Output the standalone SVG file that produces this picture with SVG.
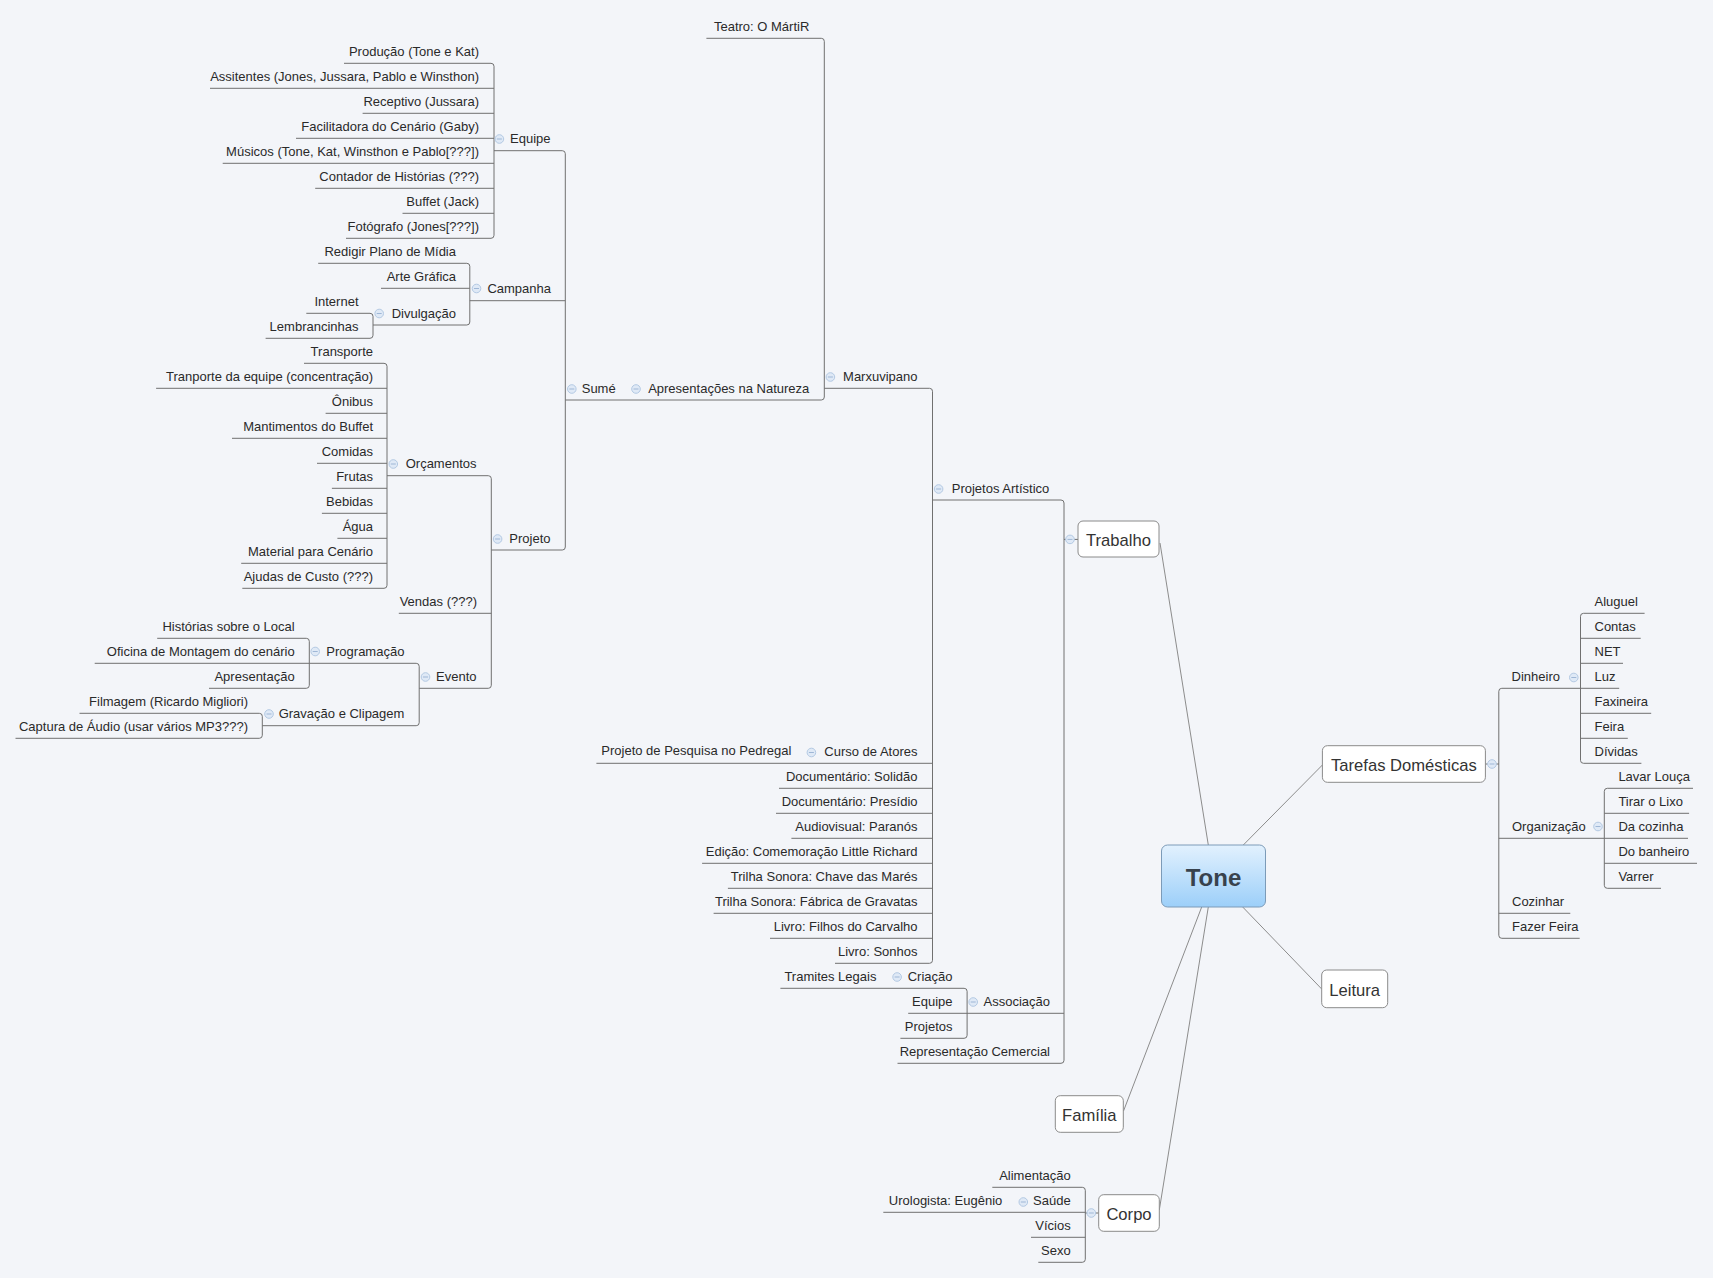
<svg xmlns="http://www.w3.org/2000/svg" width="1713" height="1278" viewBox="0 0 1713 1278">
<defs>
<linearGradient id="toneGrad" x1="0" y1="0" x2="0" y2="1">
<stop offset="0" stop-color="#e2f1fe"/>
<stop offset="1" stop-color="#9ccff9"/>
</linearGradient>
<style>
.l{font-family:"Liberation Sans",Arial,sans-serif;font-size:13px;fill:#2a2a2a}
.e{text-anchor:end}
.t{font-family:"Liberation Sans",Arial,sans-serif;font-size:16.6px;fill:#333;text-anchor:middle}
.c{fill:none;stroke:#707070;stroke-width:1}
.m{fill:none;stroke:#8c8c8c;stroke-width:1}
.box{fill:#fff;stroke:#8a8a8a;stroke-width:1}
.ic{fill:#dfe9f6;stroke:#b3c9e3;stroke-width:1}
.icm{stroke:#9fb7d6;stroke-width:1}
</style>
</defs>
<rect x="0" y="0" width="1713" height="1278" fill="#f3f5f9"/>

<g id="connectors">
<path class="m" d="M1208.3,845 L1160,543"/>
<path class="m" d="M1243.3,845 L1322.4,765"/>
<path class="m" d="M1242.7,907 L1321.7,989"/>
<path class="m" d="M1201.7,907 L1123.5,1111"/>
<path class="m" d="M1208.3,907 L1159.3,1210"/>
<path class="c" d="M1064,539.4 H1078"/>
<path class="c" d="M932.5,500 H1061 Q1064,500 1064,503 V1060.3 Q1064,1063.3 1061,1063.3 H897.5"/>
<path class="c" d="M908.2,1013.3 H1064"/>
<path class="c" d="M780.4,988.3 H964.1 Q967.1,988.3 967.1,991.3 V1035.3 Q967.1,1038.3 964.1,1038.3 H900.4"/>
<path class="c" d="M824.3,388.3 H929.5 Q932.5,388.3 932.5,391.3 V960.3 Q932.5,963.3 929.5,963.3 H835"/>
<path class="c" d="M596.4,763.3 H932.5 M779,788.3 H932.5 M776,813.3 H932.5 M791.4,838.3 H932.5 M702.1,863.3 H932.5 M727.9,888.3 H932.5 M713.6,913.3 H932.5 M770,938.3 H932.5"/>
<path class="c" d="M706.4,38.3 H821.3 Q824.3,38.3 824.3,41.3 V397 Q824.3,400 821.3,400 H565.3"/>
<path class="c" d="M494,150.7 H562.3 Q565.3,150.7 565.3,153.7 V547 Q565.3,550 562.3,550 H491.3"/>
<path class="c" d="M469.8,300.7 H565.3"/>
<path class="c" d="M344,63.3 H491 Q494,63.3 494,66.3 V235.3 Q494,238.3 491,238.3 H346"/>
<path class="c" d="M210,88.3 H494 M362.6,113.3 H494 M296,138.3 H494 M222.7,163.3 H494 M315.2,188.3 H494 M402.5,213.3 H494"/>
<path class="c" d="M318.2,263.3 H466.8 Q469.8,263.3 469.8,266.3 V322 Q469.8,325 466.8,325 H373"/>
<path class="c" d="M381,288.3 H469.8"/>
<path class="c" d="M306.3,313.3 H370 Q373,313.3 373,316.3 V335.3 Q373,338.3 370,338.3 H265.6"/>
<path class="c" d="M387,475.7 H488.3 Q491.3,475.7 491.3,478.7 V685.3 Q491.3,688.3 488.3,688.3 H419.2"/>
<path class="c" d="M398.8,613.3 H491.3"/>
<path class="c" d="M304,363.3 H384 Q387,363.3 387,366.3 V585.3 Q387,588.3 384,588.3 H242.3"/>
<path class="c" d="M156.1,388.3 H387 M325.6,413.3 H387 M232,438.3 H387 M317,463.3 H387 M331.9,488.3 H387 M321.9,513.3 H387 M337.4,538.3 H387 M241.2,563.3 H387"/>
<path class="c" d="M309.3,663.3 H416.2 Q419.2,663.3 419.2,666.3 V722.7 Q419.2,725.7 416.2,725.7 H262.3"/>
<path class="c" d="M157.2,638.3 H306.3 Q309.3,638.3 309.3,641.3 V685.3 Q309.3,688.3 306.3,688.3 H209"/>
<path class="c" d="M94.7,663.3 H309.3"/>
<path class="c" d="M79.5,713.3 H259.3 Q262.3,713.3 262.3,716.3 V735.3 Q262.3,738.3 259.3,738.3 H15.5"/>
<path class="c" d="M1085.3,1213 H1098.7"/>
<path class="c" d="M992.3,1187.3 H1082.3 Q1085.3,1187.3 1085.3,1190.3 V1259.3 Q1085.3,1262.3 1082.3,1262.3 H1038.3"/>
<path class="c" d="M883.3,1212.3 H1085.3 M1031,1237.3 H1085.3"/>
<path class="c" d="M1485.5,764 H1498.8"/>
<path class="c" d="M1580.5,688.3 H1501.8 Q1498.8,688.3 1498.8,691.3 V935.3 Q1498.8,938.3 1501.8,938.3 H1579.7"/>
<path class="c" d="M1498.8,838.3 H1604.3 M1498.8,913.3 H1570.3"/>
<path class="c" d="M1644.6,613.3 H1583.5 Q1580.5,613.3 1580.5,616.3 V760.3 Q1580.5,763.3 1583.5,763.3 H1641.4"/>
<path class="c" d="M1580.5,638.3 H1640.7 M1580.5,663.3 H1623 M1580.5,688.3 H1619.2 M1580.5,713.3 H1651.2 M1580.5,738.3 H1627.8"/>
<path class="c" d="M1693,788.3 H1607.3 Q1604.3,788.3 1604.3,791.3 V885.3 Q1604.3,888.3 1607.3,888.3 H1661"/>
<path class="c" d="M1604.3,813.3 H1689.1 M1604.3,838.3 H1688 M1604.3,863.3 H1697"/>
</g>

<g id="tone">
<rect x="1161.5" y="845" width="104" height="62" rx="6" fill="url(#toneGrad)" stroke="#7c9bb8"/>
<text x="1213.5" y="885.5" text-anchor="middle" font-family="Liberation Sans, Arial, sans-serif" font-size="24" font-weight="bold" fill="#38424d">Tone</text>
</g>

<g id="trabalho">
<rect class="box" x="1078" y="521" width="81" height="36" rx="5"/>
<text class="t" x="1118.5" y="545.6">Trabalho</text>
<circle class="ic" cx="1070" cy="539.4" r="4.3"/><line class="icm" x1="1067.5" y1="539.4" x2="1072.5" y2="539.4"/>
</g>
<g id="tarefas">
<rect class="box" x="1322.4" y="745.7" width="163" height="36.6" rx="5"/>
<text class="t" x="1403.9" y="770.6">Tarefas Domésticas</text>
<circle class="ic" cx="1492" cy="764" r="4.3"/><line class="icm" x1="1489.5" y1="764" x2="1494.5" y2="764"/>
</g>
<g id="leitura">
<rect class="box" x="1321.7" y="970" width="66" height="37.7" rx="5"/>
<text class="t" x="1354.7" y="995.5">Leitura</text>
</g>
<g id="familia">
<rect class="box" x="1055.3" y="1095.7" width="68" height="36.6" rx="5"/>
<text class="t" x="1089.3" y="1120.5">Família</text>
</g>
<g id="corpo">
<rect class="box" x="1098.7" y="1194.7" width="60.6" height="36.6" rx="5"/>
<text class="t" x="1129" y="1219.6">Corpo</text>
<circle class="ic" cx="1091.3" cy="1213" r="4.3"/><line class="icm" x1="1088.8" y1="1213" x2="1093.8" y2="1213"/>
</g>

<g id="projetos-artistico"><text class="l e" x="1049.3" y="492.7">Projetos Artístico</text><circle class="ic" cx="938.6" cy="489" r="4.3"/><line class="icm" x1="936.1" y1="489" x2="941.1" y2="489"/></g>
<g id="marxuvipano"><text class="l e" x="917.5" y="381">Marxuvipano</text><circle class="ic" cx="830.4" cy="377" r="4.3"/><line class="icm" x1="827.9" y1="377" x2="832.9" y2="377"/></g>
<g id="teatro"><text class="l e" x="809.3" y="31">Teatro: O MártiR</text></g>
<g id="apresentacoes"><text class="l e" x="809.3" y="392.7">Apresentações na Natureza</text><circle class="ic" cx="636" cy="389" r="4.3"/><line class="icm" x1="633.5" y1="389" x2="638.5" y2="389"/></g>
<g id="sume"><text class="l e" x="615.7" y="392.7">Sumé</text><circle class="ic" cx="571.8" cy="389" r="4.3"/><line class="icm" x1="569.3" y1="389" x2="574.3" y2="389"/></g>

<g id="equipe"><text class="l e" x="550.5" y="143.4">Equipe</text><circle class="ic" cx="499.4" cy="139" r="4.3"/><line class="icm" x1="496.9" y1="139" x2="501.9" y2="139"/></g>
<g id="producao"><text class="l e" x="479" y="56">Produção (Tone e Kat)</text></g>
<g id="assitentes"><text class="l e" x="479" y="81">Assitentes (Jones, Jussara, Pablo e Winsthon)</text></g>
<g id="receptivo"><text class="l e" x="479" y="106">Receptivo (Jussara)</text></g>
<g id="facilitadora"><text class="l e" x="479" y="131">Facilitadora do Cenário (Gaby)</text></g>
<g id="musicos"><text class="l e" x="479" y="156">Músicos (Tone, Kat, Winsthon e Pablo[???])</text></g>
<g id="contador"><text class="l e" x="479" y="181">Contador de Histórias (???)</text></g>
<g id="buffet"><text class="l e" x="479" y="206">Buffet (Jack)</text></g>
<g id="fotografo"><text class="l e" x="479" y="231">Fotógrafo (Jones[???])</text></g>

<g id="campanha"><text class="l e" x="551" y="293.4">Campanha</text><circle class="ic" cx="476.5" cy="288.5" r="4.3"/><line class="icm" x1="474" y1="288.5" x2="479" y2="288.5"/></g>
<g id="redigir"><text class="l e" x="456" y="256">Redigir Plano de Mídia</text></g>
<g id="arte"><text class="l e" x="456" y="281">Arte Gráfica</text></g>
<g id="divulgacao"><text class="l e" x="456" y="317.7">Divulgação</text><circle class="ic" cx="379.2" cy="313.5" r="4.3"/><line class="icm" x1="376.7" y1="313.5" x2="381.7" y2="313.5"/></g>
<g id="internet"><text class="l e" x="358.5" y="306">Internet</text></g>
<g id="lembrancinhas"><text class="l e" x="358.5" y="331">Lembrancinhas</text></g>

<g id="projeto"><text class="l e" x="550.5" y="542.7">Projeto</text><circle class="ic" cx="497.6" cy="539" r="4.3"/><line class="icm" x1="495.1" y1="539" x2="500.1" y2="539"/></g>
<g id="orcamentos"><text class="l e" x="476.5" y="468.4">Orçamentos</text><circle class="ic" cx="393.3" cy="464" r="4.3"/><line class="icm" x1="390.8" y1="464" x2="395.8" y2="464"/></g>
<g id="transporte"><text class="l e" x="373" y="356">Transporte</text></g>
<g id="tranporte-equipe"><text class="l e" x="373" y="381">Tranporte da equipe (concentração)</text></g>
<g id="onibus"><text class="l e" x="373" y="406">Ônibus</text></g>
<g id="mantimentos"><text class="l e" x="373" y="431">Mantimentos do Buffet</text></g>
<g id="comidas"><text class="l e" x="373" y="456">Comidas</text></g>
<g id="frutas"><text class="l e" x="373" y="481">Frutas</text></g>
<g id="bebidas"><text class="l e" x="373" y="506">Bebidas</text></g>
<g id="agua"><text class="l e" x="373" y="531">Água</text></g>
<g id="material"><text class="l e" x="373" y="556">Material para Cenário</text></g>
<g id="ajudas"><text class="l e" x="373" y="581">Ajudas de Custo (???)</text></g>
<g id="vendas"><text class="l e" x="477" y="606">Vendas (???)</text></g>
<g id="evento"><text class="l e" x="476.5" y="681">Evento</text><circle class="ic" cx="425.5" cy="677" r="4.3"/><line class="icm" x1="423" y1="677" x2="428" y2="677"/></g>
<g id="programacao"><text class="l e" x="404.4" y="656">Programação</text><circle class="ic" cx="315.2" cy="651.5" r="4.3"/><line class="icm" x1="312.7" y1="651.5" x2="317.7" y2="651.5"/></g>
<g id="historias"><text class="l e" x="294.7" y="631">Histórias sobre o Local</text></g>
<g id="oficina"><text class="l e" x="294.7" y="656">Oficina de Montagem do cenário</text></g>
<g id="apresentacao"><text class="l e" x="294.7" y="681">Apresentação</text></g>
<g id="gravacao"><text class="l e" x="404.4" y="718.4">Gravação e Clipagem</text><circle class="ic" cx="269" cy="714" r="4.3"/><line class="icm" x1="266.5" y1="714" x2="271.5" y2="714"/></g>
<g id="filmagem"><text class="l e" x="248" y="706">Filmagem (Ricardo Migliori)</text></g>
<g id="captura"><text class="l e" x="248" y="731">Captura de Áudio (usar vários MP3???)</text></g>

<g id="curso"><text class="l e" x="917.5" y="756.3">Curso de Atores</text><circle class="ic" cx="811.4" cy="752.5" r="4.3"/><line class="icm" x1="808.9" y1="752.5" x2="813.9" y2="752.5"/></g>
<g id="pesquisa"><text class="l e" x="791.4" y="755.3">Projeto de Pesquisa no Pedregal</text></g>
<g id="doc-solidao"><text class="l e" x="917.5" y="781">Documentário: Solidão</text></g>
<g id="doc-presidio"><text class="l e" x="917.5" y="806">Documentário: Presídio</text></g>
<g id="audiovisual"><text class="l e" x="917.5" y="831">Audiovisual: Paranós</text></g>
<g id="edicao"><text class="l e" x="917.5" y="856">Edição: Comemoração Little Richard</text></g>
<g id="trilha-chave"><text class="l e" x="917.5" y="881">Trilha Sonora: Chave das Marés</text></g>
<g id="trilha-fabrica"><text class="l e" x="917.5" y="906">Trilha Sonora: Fábrica de Gravatas</text></g>
<g id="livro-filhos"><text class="l e" x="917.5" y="931">Livro: Filhos do Carvalho</text></g>
<g id="livro-sonhos"><text class="l e" x="917.5" y="956">Livro: Sonhos</text></g>

<g id="associacao"><text class="l e" x="1050" y="1006">Associação</text><circle class="ic" cx="973.2" cy="1002" r="4.3"/><line class="icm" x1="970.7" y1="1002" x2="975.7" y2="1002"/></g>
<g id="criacao"><text class="l e" x="952.5" y="981">Criação</text><circle class="ic" cx="897.1" cy="977" r="4.3"/><line class="icm" x1="894.6" y1="977" x2="899.6" y2="977"/></g>
<g id="tramites"><text class="l e" x="876.4" y="981">Tramites Legais</text></g>
<g id="assoc-equipe"><text class="l e" x="952.5" y="1006">Equipe</text></g>
<g id="assoc-projetos"><text class="l e" x="952.5" y="1031">Projetos</text></g>
<g id="representacao"><text class="l e" x="1050" y="1056">Representação Cemercial</text></g>

<g id="alimentacao"><text class="l e" x="1070.7" y="1180">Alimentação</text></g>
<g id="saude"><text class="l e" x="1070.7" y="1205">Saúde</text><circle class="ic" cx="1023.3" cy="1202" r="4.3"/><line class="icm" x1="1020.8" y1="1202" x2="1025.8" y2="1202"/></g>
<g id="urologista"><text class="l e" x="1002.3" y="1205">Urologista: Eugênio</text></g>
<g id="vicios"><text class="l e" x="1070.7" y="1230">Vícios</text></g>
<g id="sexo"><text class="l e" x="1070.7" y="1255">Sexo</text></g>

<g id="dinheiro"><text class="l" x="1511.6" y="681">Dinheiro</text><circle class="ic" cx="1573.8" cy="677.5" r="4.3"/><line class="icm" x1="1571.3" y1="677.5" x2="1576.3" y2="677.5"/></g>
<g id="aluguel"><text class="l" x="1594.5" y="606">Aluguel</text></g>
<g id="contas"><text class="l" x="1594.5" y="631">Contas</text></g>
<g id="net"><text class="l" x="1594.5" y="656">NET</text></g>
<g id="luz"><text class="l" x="1594.5" y="681">Luz</text></g>
<g id="faxineira"><text class="l" x="1594.5" y="706">Faxineira</text></g>
<g id="feira"><text class="l" x="1594.5" y="731">Feira</text></g>
<g id="dividas"><text class="l" x="1594.5" y="756">Dívidas</text></g>
<g id="organizacao"><text class="l" x="1512" y="831">Organização</text><circle class="ic" cx="1598" cy="826.5" r="4.3"/><line class="icm" x1="1595.5" y1="826.5" x2="1600.5" y2="826.5"/></g>
<g id="lavar"><text class="l" x="1618.4" y="781">Lavar Louça</text></g>
<g id="tirar"><text class="l" x="1618.4" y="806">Tirar o Lixo</text></g>
<g id="da-cozinha"><text class="l" x="1618.4" y="831">Da cozinha</text></g>
<g id="do-banheiro"><text class="l" x="1618.4" y="856">Do banheiro</text></g>
<g id="varrer"><text class="l" x="1618.4" y="881">Varrer</text></g>
<g id="cozinhar"><text class="l" x="1512" y="906">Cozinhar</text></g>
<g id="fazer-feira"><text class="l" x="1512" y="931">Fazer Feira</text></g>
</svg>
